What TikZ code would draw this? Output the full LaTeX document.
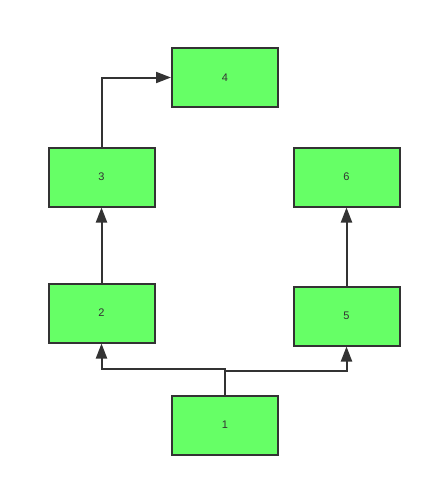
\documentclass[tikz,border=0pt]{standalone}
\usepackage{fontspec}
\setmainfont{Liberation Sans}
\usetikzlibrary{arrows.meta}
\definecolor{boxgreen}{HTML}{66FF66}
\definecolor{edge}{HTML}{333333}
\begin{document}
\begin{tikzpicture}[x=1pt, y=-1pt,
    block/.style={rectangle, fill=boxgreen, draw=edge, line width=2pt, minimum width=106pt, minimum height=59pt, inner sep=0pt, font=\fontsize{11}{13}\selectfont, text=edge},
    link/.style={draw=edge, line width=2pt, -{Triangle[length=15pt, width=11pt]}}]
	\useasboundingbox (0,0) rectangle (432,487);
	\node[block] (n4) at (225, 77.5) {4};
	\node[block] (n3) at (101.5, 177) {3};
	\node[block] (n6) at (346.5, 177) {6};
	\node[block] (n2) at (101.5, 313) {2};
	\node[block] (n5) at (346.5, 316) {5};
	\node[block] (n1) at (225, 425) {1};
	\coordinate (jl) at (225, 369);
	\coordinate (jr) at (225, 371);
	\draw[link] (n1.north) -- (jl) -| (n2.south);
	\draw[link] (n1.north) -- (jr) -| (n5.south);
	\draw[link] (n2) -- (n3);
	\draw[link] (n5) -- (n6);
	\draw[link] (n3.north) |- (n4.west);
\end{tikzpicture}
\end{document}
